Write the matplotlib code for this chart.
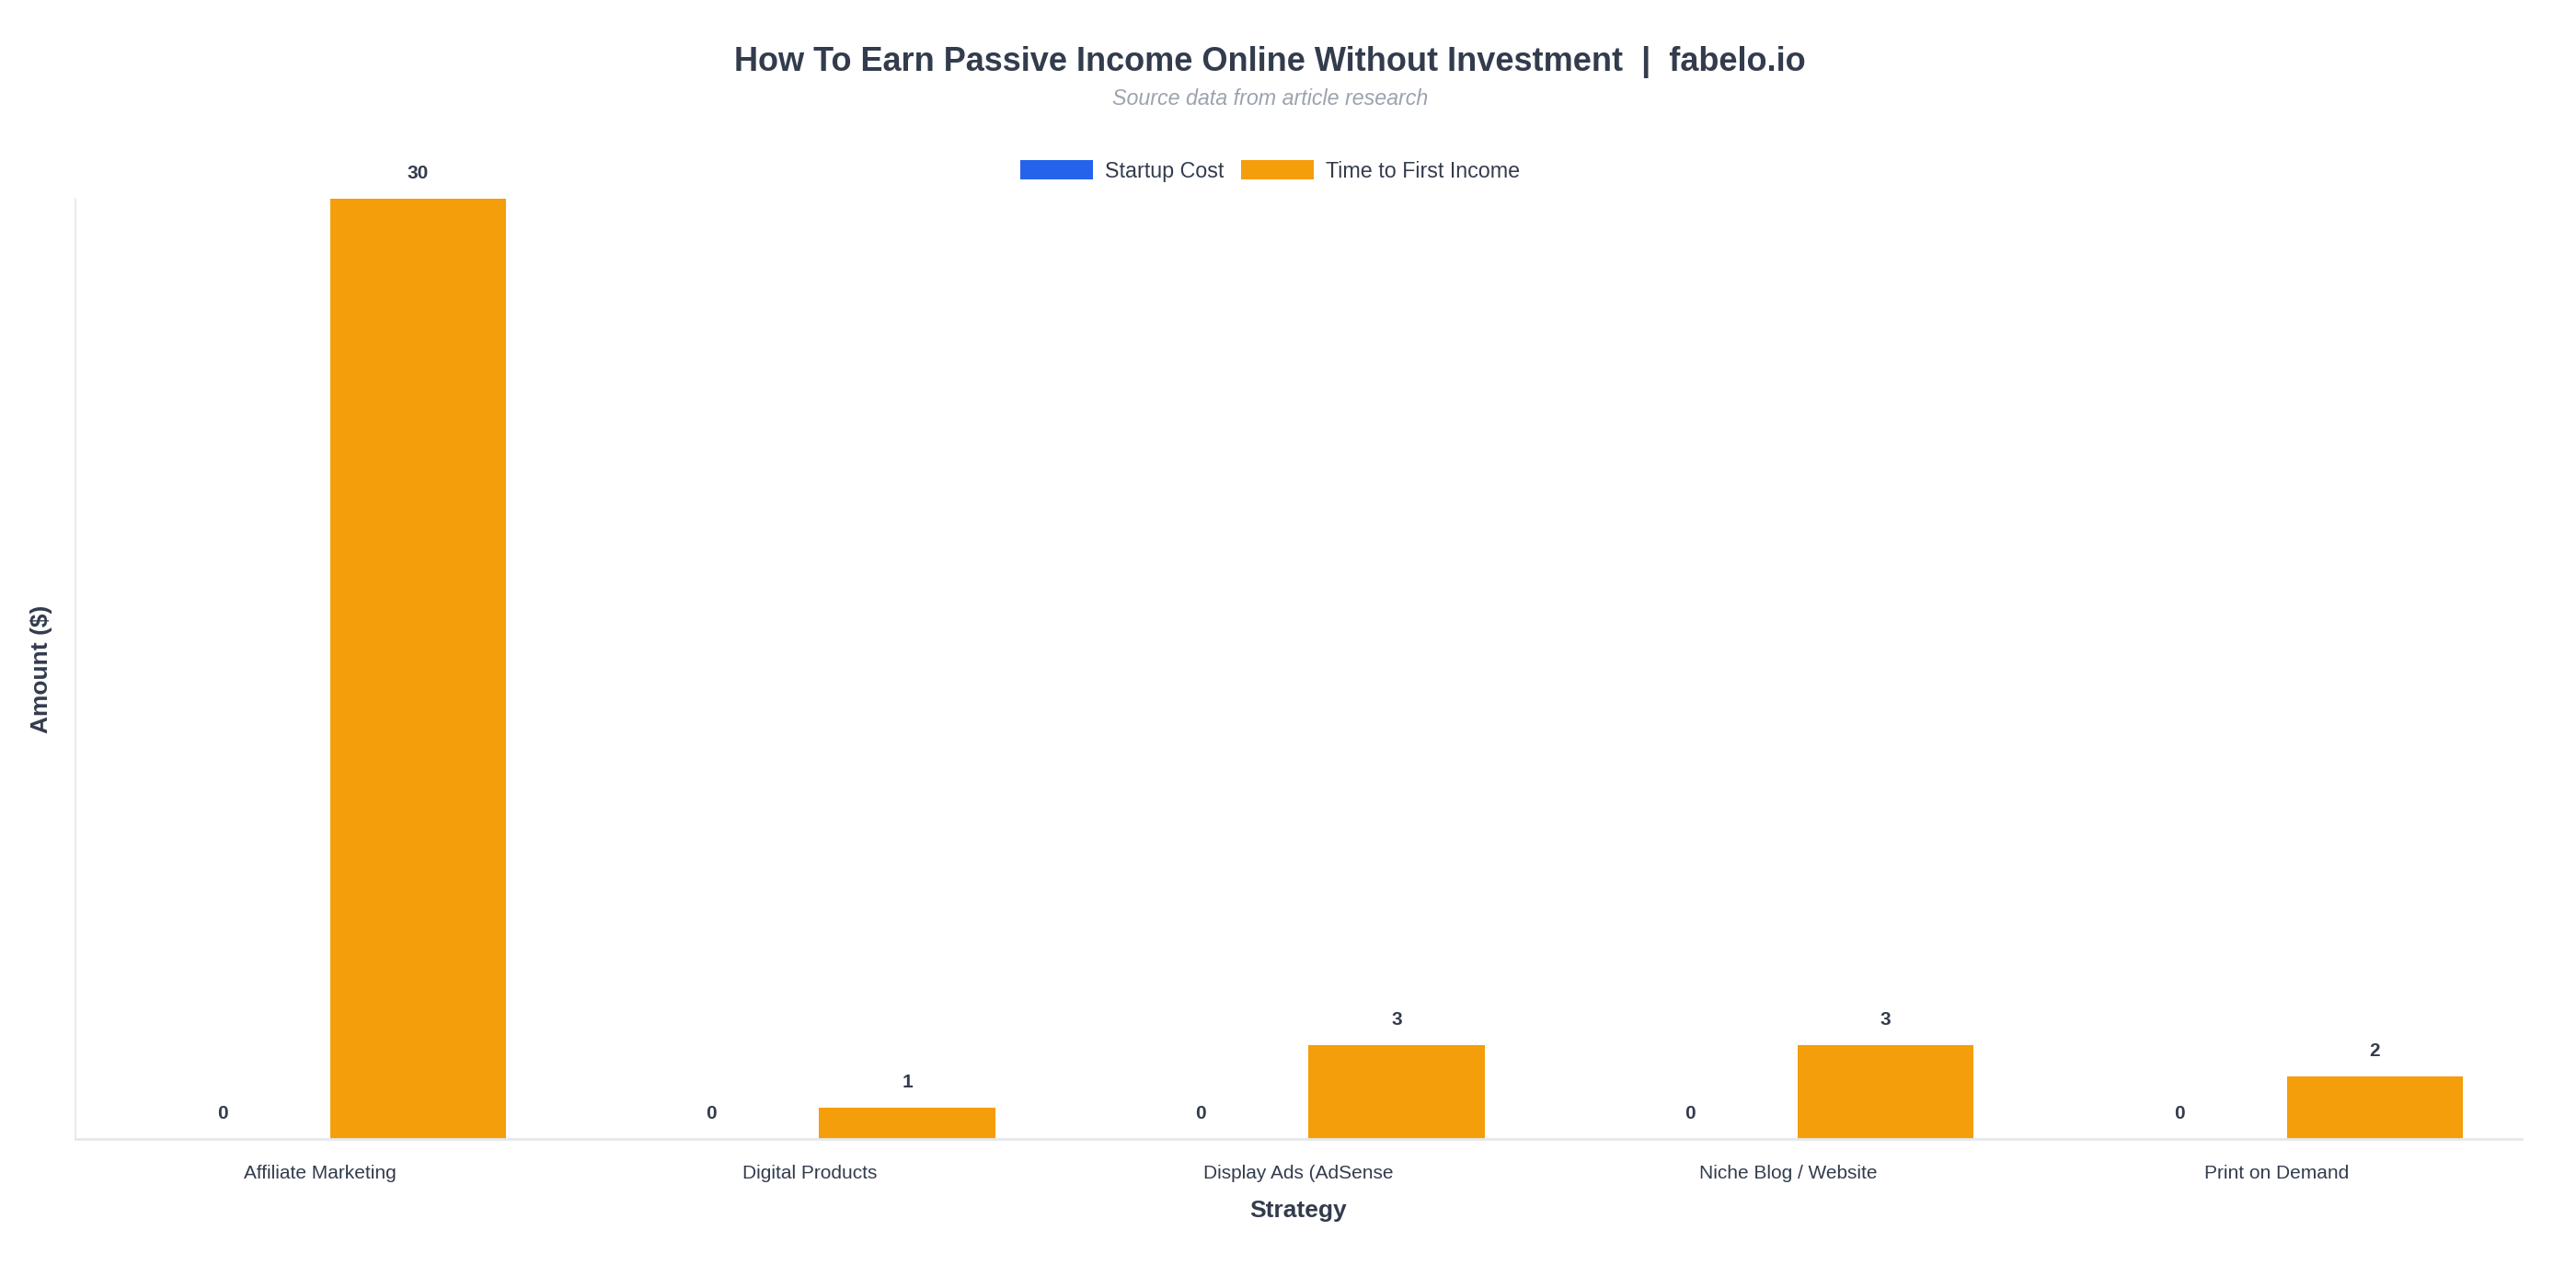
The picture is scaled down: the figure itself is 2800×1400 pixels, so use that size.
import matplotlib
matplotlib.use("Agg")
from matplotlib import pyplot as plt
import numpy as np

strategies = ["Affiliate Marketing", "Digital Products", "Display Ads (AdSense",
              "Niche Blog / Website", "Print on Demand"]
startup_cost = [0, 0, 0, 0, 0]
time_to_income = [30, 1, 3, 3, 2]
series_names = ["Startup Cost", "Time to First Income"]

plt.rcParams['font.family'] = ['Liberation Sans', 'DejaVu Sans']
dark = '#333c4d'

fig = plt.figure(figsize=(14, 7), dpi=200)
ax = fig.add_axes([0.0293, 0.1157, 0.9496, 0.73])

x = np.arange(len(strategies))
w = 0.36
b1 = ax.bar(x - 0.2, startup_cost, w, color='#2563eb', label=series_names[0])
b2 = ax.bar(x + 0.2, time_to_income, w, color='#f59e0b', label=series_names[1])

for bars in (b1, b2):
    for rect in bars:
        h = rect.get_height()
        ax.annotate(f"{h:g}", (rect.get_x() + rect.get_width() / 2, h),
                    xytext=(0, 6.5), textcoords='offset points',
                    ha='center', va='bottom', fontsize=7.5,
                    fontweight='bold', color=dark, annotation_clip=False)

ax.set_xlim(-0.5, len(strategies) - 0.5)
ax.set_ylim(0, 30)
ax.set_xticks(x)
ax.set_xticklabels(strategies, fontsize=7.5, color=dark)
ax.tick_params(axis='x', length=0, pad=10)
ax.set_yticks([])

for s in ['top', 'right']:
    ax.spines[s].set_visible(False)
ax.spines['left'].set_color('#e5e7eb')
ax.spines['left'].set_linewidth(0.6)
ax.spines['bottom'].set_color('#e5e7eb')
ax.spines['bottom'].set_linewidth(1.0)

ax.set_xlabel("Strategy", fontsize=9.5, fontweight='bold', color=dark, labelpad=7)
ax.set_ylabel("Amount ($)", fontsize=9.5, fontweight='bold', color=dark, labelpad=9)

fig.text(0.493, 0.952, "How To Earn Passive Income Online Without Investment  |  fabelo.io",
         ha='center', va='center', fontsize=13, fontweight='bold', color=dark)
fig.text(0.493, 0.923, "Source data from article research", ha='center', va='center',
         fontsize=8.4, style='italic', color='#9ca3af')

leg = fig.legend(loc='center', bbox_to_anchor=(0.493, 0.867), ncol=2, frameon=False,
                 fontsize=8.4, handlelength=3.4, handleheight=1.0, handletextpad=0.55,
                 columnspacing=0.8, borderaxespad=0)
for t in leg.get_texts():
    t.set_color(dark)

fig.savefig("out.png", dpi=200, facecolor='white')
